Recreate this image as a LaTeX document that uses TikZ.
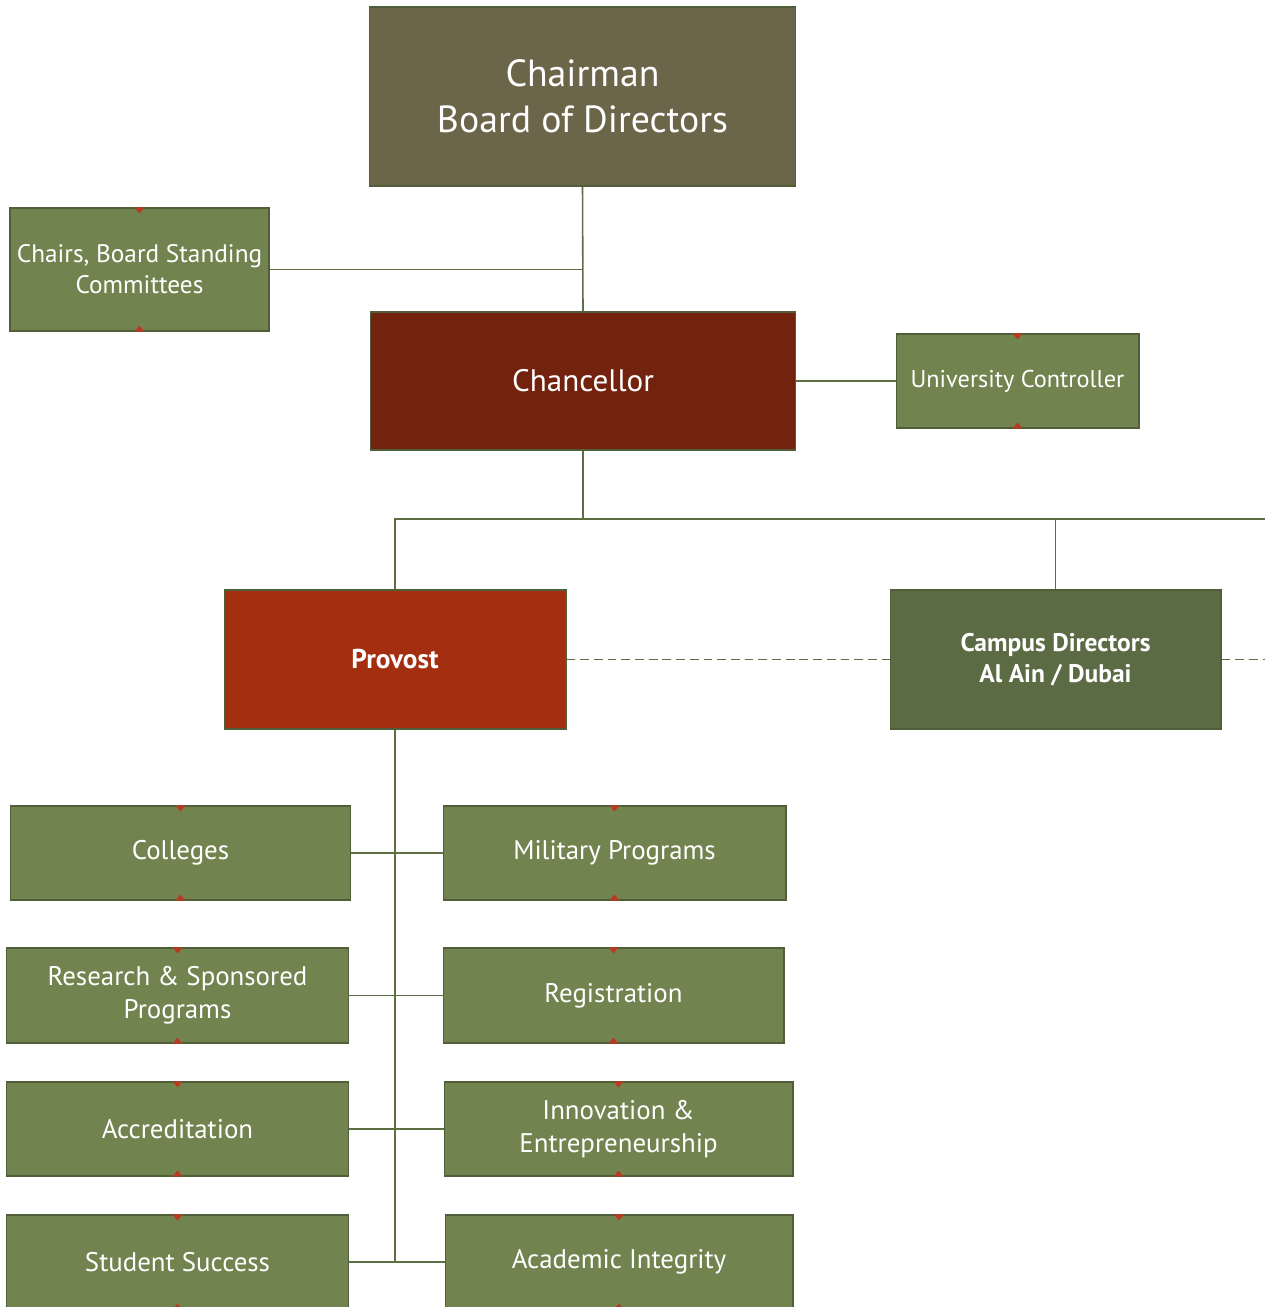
\documentclass[tikz,border=0pt]{standalone}
\usepackage{fontspec}
\setmainfont{PT Sans}
\usepackage{xcolor}

\definecolor{boardbrown}{HTML}{6B6549}
\definecolor{unitgreen}{HTML}{71844F}
\definecolor{chancred}{HTML}{73220E}
\definecolor{provred}{HTML}{A32E10}
\definecolor{campgreen}{HTML}{5B6B43}
\definecolor{linegreen}{HTML}{5E7043}
\definecolor{markred}{HTML}{B83A22}

\tikzset{
	orgbox/.style={draw=linegreen!85!black, line width=0.6pt, fill=unitgreen,
		text=white, align=center, inner sep=2pt,
		font=\fontsize{15.3}{18.8}\selectfont},
	link/.style={draw=linegreen, line width=0.9pt},
	dashlink/.style={link, dash pattern=on 5pt off 2.8pt},
}

\begin{document}
\begin{tikzpicture}[x=0.02cm,y=-0.02cm]
		\useasboundingbox (0,0) rectangle (1265,1307);
		\clip (0,0) rectangle (1265,1307);
		\node[orgbox, fill=boardbrown, minimum width=8.54cm, minimum height=3.58cm,
			font=\fontsize{21.5}{26}\selectfont] (chair) at (582.5,96.5) {Chairman\\Board of Directors};
		\node[orgbox, minimum width=5.18cm, minimum height=2.46cm,
			font=\fontsize{14.4}{17.5}\selectfont] (stand) at (139.5,269.5) {Chairs, Board Standing\\Committees};
		\node[orgbox, fill=chancred, minimum width=8.52cm, minimum height=2.76cm,
			font=\fontsize{17.7}{20}\selectfont] (chanc) at (583,381) {Chancellor};
		\node[orgbox, minimum width=4.86cm, minimum height=1.88cm,
			font=\fontsize{13.8}{17}\selectfont] (ctrl) at (1017.5,381) {University Controller};
		\node[orgbox, fill=provred, minimum width=6.84cm, minimum height=2.78cm,
			font=\fontsize{15.5}{19}\selectfont\bfseries] (prov) at (395,659.5) {Provost};
		\node[orgbox, fill=campgreen, minimum width=6.62cm, minimum height=2.78cm,
			font=\fontsize{14.5}{17.5}\selectfont\bfseries] (campus) at (1055.5,659.5) {Campus Directors\\Al Ain / Dubai};
		\node[orgbox, minimum width=6.82cm, minimum height=1.88cm] (coll) at (180.5,853) {Colleges};
		\node[orgbox, minimum width=6.86cm, minimum height=1.9cm] (res) at (177.5,995.5) {Research \& Sponsored\\Programs};
		\node[orgbox, minimum width=6.86cm, minimum height=1.88cm] (acc) at (177.5,1129) {Accreditation};
		\node[orgbox, minimum width=6.86cm, minimum height=1.88cm] (stud) at (177.5,1262) {Student Success};
		\node[orgbox, minimum width=6.86cm, minimum height=1.88cm] (mil) at (614.5,853) {Military Programs};
		\node[orgbox, minimum width=6.82cm, minimum height=1.9cm] (reg) at (613.5,995.5) {Registration};
		\node[orgbox, minimum width=6.98cm, minimum height=1.88cm] (inn) at (618.5,1129) {Innovation \&\\Entrepreneurship};
		\node[orgbox, minimum width=6.96cm, minimum height=1.88cm] (acad) at (619,1262) {Academic Integrity};
		\coordinate (bus) at (583,519);
		\coordinate (busR) at (1265,519);
		\coordinate (dashR) at (1265,659.5);
		\draw[link] (chair.south) -- (chanc.north);
		\draw[link] (stand.east) -- (stand.east -| chair.south);
		\draw[link] (chanc.east) -- (ctrl.west);
		\draw[link] (chanc.south) -- (bus);
		\draw[link] (prov.north) |- (busR);
		\draw[link] (campus.north) -- (campus.north |- bus);
		\draw[dashlink] (prov.east) -- (campus.west);
		\draw[dashlink] (campus.east) -- (dashR);
		\draw[link] (prov.south) -- (prov.south |- stud.east);
		\foreach \L/\R in {coll/mil, res/reg, acc/inn, stud/acad}{
			\draw[link] (\L.east) -- (\R.west);
		}
		\foreach \N in {stand, ctrl, coll, mil, res, reg, acc, inn, stud, acad}{
			\fill[markred] (\N.north) ++(-5,0) -- ++(10,0) -- ++(-5,6) -- cycle;
			\fill[markred] (\N.south) ++(-5,0) -- ++(10,0) -- ++(-5,-6) -- cycle;
		}
	\end{tikzpicture}
\end{document}
